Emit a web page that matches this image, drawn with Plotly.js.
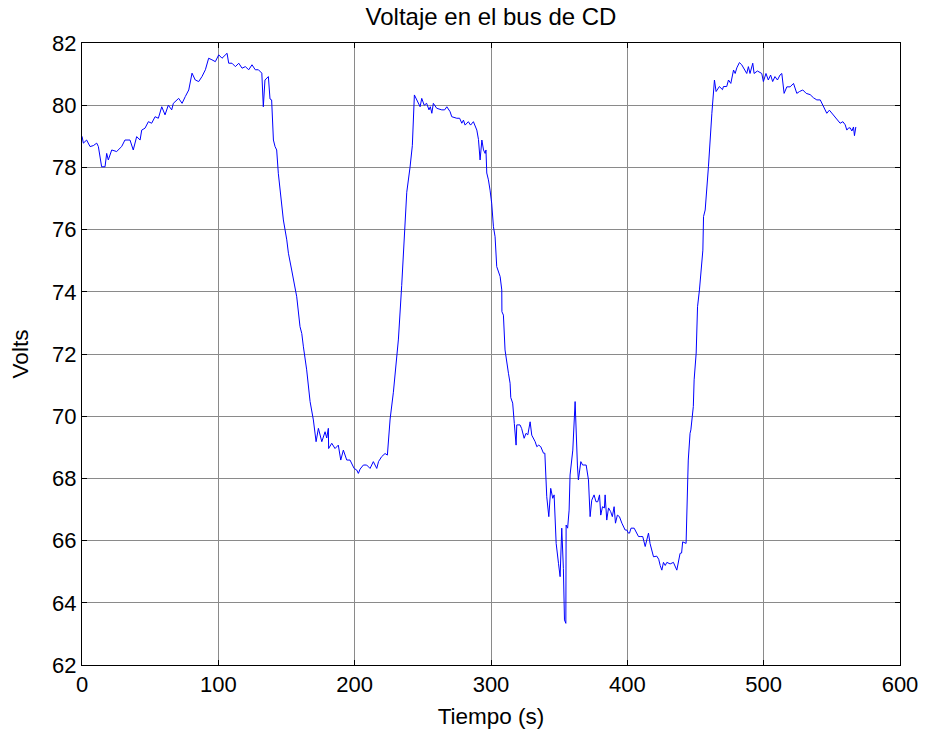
<!DOCTYPE html>
<html>
<head>
<meta charset="utf-8">
<script src="https://cdn.plot.ly/plotly-3.0.1.min.js"></script>
<style>html,body{margin:0;padding:0;background:#fff;}#chart{width:925px;height:735px;}</style>
</head>
<body>
<div id="chart"></div>
<script>
const chartTitle = "Voltaje en el bus de CD";
const xLabel = "Tiempo (s)";
const yLabel = "Volts";

const tiempo = [
0,1,3.4,5.9,8.3,10.8,12,14.4,16.9,18.1,19.3,21.8,25.4,29.1,31.5,35.2,37.6,40.1,42.6,43.8,
46.2,48.7,51.1,53.6,56,58.5,60.9,63.3,65.8,67,70.9,73.4,75.8,78.3,80.7,83.1,85.6,88,90.5,92.9,
95.3,97.8,100.3,102.7,106.4,107.6,110,112.5,115,117.4,119.8,122.3,124.7,127.1,129.4,131.9,133,134.2,136.7,137.9,
139.1,140.4,141.6,142.8,144,147.7,150.2,151.4,153.8,156.3,157.5,159.9,161.2,162.4,164.8,167.3,169.7,171.7,173.4,175.9,
178.3,179.5,180.7,180.9,183.2,185.6,188,189.8,191.7,194.2,196.6,199.6,201.5,202.7,204,206.4,208.8,211.3,213.7,216.2,
217.5,219.8,222.3,224,226,228.4,230.9,232.1,234.5,235.7,238.2,240.6,242.3,243.8,245.5,248,249.2,251,252.8,254.5,
255.5,256.6,257.7,260.2,263.9,266,267.6,270,271.2,274.9,277,278.6,279.8,281,283.4,285,287.1,288.3,289.6,290.8,
292,293.3,294.5,295.7,296.3,296.9,298.1,299.3,300.5,301.8,303,304.2,306.7,307.9,308,309.1,310.3,312.8,314,314.5,
315.9,317.1,318.4,318.9,321.3,322.5,324.3,325.7,327,328.7,329.9,332.4,333.6,335,336.5,338.5,339.5,340.9,342.4,343.8,
345.3,346.3,347.8,349.5,350.7,351.9,353.1,353.9,354.9,355.1,356.2,357.3,358,360,361.7,363.4,364.1,365.9,367.2,369.8,
371.5,372.7,373.9,375.6,377,378.3,379.6,380.5,381.8,383.2,383.7,384.9,386.2,387.8,389,390.3,391.3,392.7,394.2,396,
398.4,399.6,400.8,401.6,402.7,405,406,407,408.2,409.4,411.3,413.1,414,415.5,416.7,419.2,421.6,423,424.1,425.3,
426.5,427.8,429,431.4,433.8,436.3,438.7,439.8,440.6,443.1,444.3,444.7,446,446.6,448.4,449,450.5,451.5,452.9,455.4,
455.9,457.1,459.5,460.2,462,
463.9,465.1,467.5,469.8,470.5,472.9,474.2,475.9,477.9,479.1,480.3,482.2,483.9,486.4,487.6,488.8,490,492,493,495.4,
498.6,499.8,501.7,503.4,505.1,506.6,508.3,510.1,512,513.3,515,517,519.4,521.9,524.3,526.3,528.7,531.2,534.1,536.5,
539,541.5,543.9,546.3,548.2,551.2,553.6,556.1,558.1,559.8,561,562.3,563.5,564.7,565.9,566.6,567.6
];

const voltaje = [
79.0,78.78,78.88,78.67,78.7,78.78,78.67,78.02,78.02,78.45,78.24,78.56,78.51,78.67,78.88,78.88,78.56,78.99,78.88,79.2,
79.26,79.47,79.42,79.63,79.58,79.95,79.69,80.0,79.85,80.06,80.22,80.06,80.28,80.49,81.03,80.81,80.76,80.92,81.14,81.51,
81.46,81.4,81.62,81.51,81.67,81.35,81.35,81.24,81.35,81.19,81.24,81.14,81.3,81.14,81.14,81.03,79.95,80.81,80.92,80.2,
80.17,78.88,78.67,78.56,77.81,76.31,75.67,75.24,74.7,74.16,73.84,72.88,72.66,72.23,71.49,70.47,69.88,69.18,69.61,69.18,
69.5,69.3,69.61,68.96,69.13,68.96,69.07,68.59,68.91,68.59,68.59,68.32,68.27,68.16,68.3,68.43,68.43,68.32,68.54,68.32,
68.54,68.7,68.8,68.75,69.91,70.77,72.05,72.48,74.2,75.27,77.2,78.0,78.7,80.33,80.17,79.95,80.22,80.0,80.06,79.85,
79.95,79.74,80.06,79.9,79.85,79.85,79.95,79.79,79.63,79.58,79.58,79.42,79.52,79.36,79.47,79.36,79.47,79.36,79.2,78.9,
78.24,78.88,78.56,78.45,78.56,77.82,77.6,77.27,76.85,76.09,75.77,74.81,74.49,74.06,73.36,73.25,72.13,71.38,71.06,70.6,
70.42,69.77,69.07,69.72,69.72,69.6,69.29,69.45,69.4,69.82,69.39,69.18,69.02,69.07,69.02,68.81,68.81,67.41,66.77,67.68,
67.36,67.47,65.91,65.27,64.84,66.4,65.1,63.45,63.34,66.5,66.4,66.98,68.11,68.91,70.47,68.4,67.95,68.54,68.43,68.43,
67.95,66.77,67.3,67.47,67.25,67.25,67.47,66.82,67.09,67.05,67.47,66.66,67.05,66.93,66.77,67.09,66.56,66.82,66.77,66.56,
66.34,66.34,66.24,66.24,66.4,66.4,66.3,66.24,66.13,66.13,66.13,65.81,66.0,66.24,65.9,65.48,65.5,65.4,65.2,65.05,
65.3,65.2,65.3,65.25,65.3,65.05,65.59,65.6,65.96,65.91,67.95,68.59,69.45,69.56,70.31,71.17,72.03,73.52,74.06,75.34,
76.42,76.63,78.02,78.56,79.74,
80.81,80.44,80.6,80.5,80.6,80.6,80.81,80.7,81.13,81.02,81.2,81.37,81.3,81.13,81.02,81.24,81.02,81.35,81.02,81.1,
81.02,80.76,81.02,80.81,80.97,80.76,80.92,80.81,80.97,81.02,80.38,80.59,80.59,80.7,80.38,80.44,80.49,80.38,80.34,80.24,
80.17,80.17,79.95,79.74,79.84,79.68,79.58,79.42,79.47,79.37,79.2,79.27,79.27,79.17,79.3,79.02,79.3
];

const xTicks = [0,100,200,300,400,500,600];
const yTicks = [62,64,66,68,70,72,74,76,78,80,82];

const font = "Liberation Sans, Arial, sans-serif";

const trace = {
  x: tiempo, y: voltaje, type: "scatter", mode: "lines",
  line: {color: "#0000ff", width: 1}, hoverinfo: "skip"
};

const axisCommon = {
  showline: true, linecolor: "#000", linewidth: 1, mirror: "ticks",
  ticks: "inside", ticklen: 5, tickwidth: 1, tickcolor: "#000",
  showgrid: true, gridcolor: "#8a8a8a", gridwidth: 1,
  zeroline: false, tickfont: {family: font, size: 22, color: "#000"}
};

const layout = {
  width: 925, height: 735,
  margin: {l: 82, r: 25, t: 43, b: 70},
  paper_bgcolor: "#fff", plot_bgcolor: "#fff",
  showlegend: false,
  font: {family: font, size: 22, color: "#000"},
  title: {text: chartTitle, font: {family: font, size: 24, color: "#000"},
          x: 0.5, xref: "paper", xanchor: "center", y: 1 - 17/735, yref: "container", yanchor: "middle"},
  xaxis: Object.assign({}, axisCommon, {
    range: [0, 600], tickvals: xTicks, ticktext: xTicks.map(String),
    title: {text: xLabel, font: {family: font, size: 22.5, color: "#000"}, standoff: 11}
  }),
  yaxis: Object.assign({}, axisCommon, {
    range: [62, 82], tickvals: yTicks, ticktext: yTicks.map(String),
    title: {text: yLabel, font: {family: font, size: 22.5, color: "#000"}, standoff: 17}
  })
};

Plotly.newPlot("chart", [trace], layout, {staticPlot: true, displayModeBar: false});
</script>
</body>
</html>
